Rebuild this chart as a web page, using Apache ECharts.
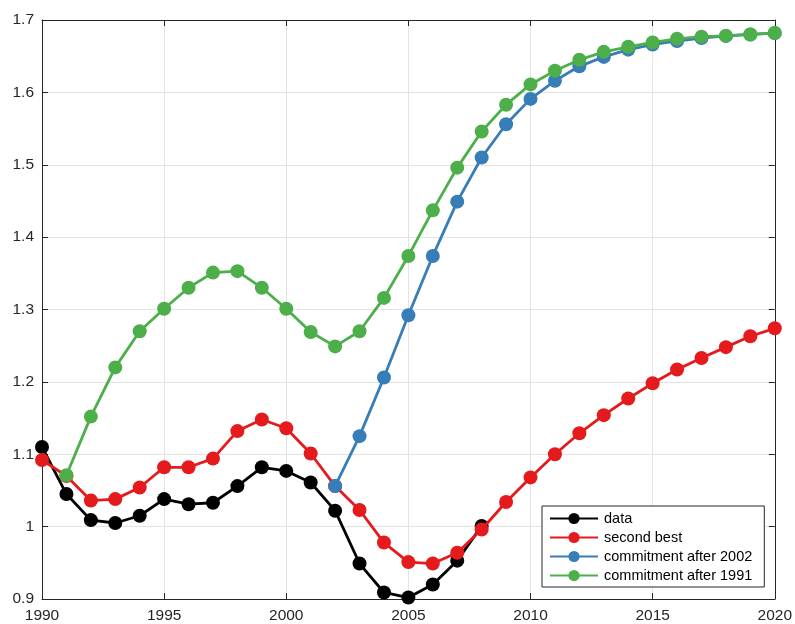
<!DOCTYPE html>
<html><head><meta charset="utf-8">
<script src="https://cdn.jsdelivr.net/npm/echarts@6/dist/echarts.min.js"></script>
<style>html,body{margin:0;padding:0;background:#fff}#c{width:795px;height:624px}</style>
</head><body><div id="c"></div>
<script>
const years = [];
for (let y = 1990; y <= 2020; y++) years.push(y);
const dataVals = [1.110,1.045,1.009,1.005,1.015,1.038,1.031,1.033,1.056,1.082,1.077,1.061,1.022,0.949,0.909,0.902,0.920,0.953,1.001];
const secondBest = [1.092,1.070,1.036,1.038,1.054,1.082,1.082,1.094,1.132,1.148,1.136,1.101,1.056,1.023,0.978,0.951,0.949,0.964,0.996,1.034,1.068,1.100,1.129,1.154,1.177,1.198,1.217,1.233,1.248,1.263,1.274];
const commit2002Start = 2002;
const commit2002 = [1.056,1.125,1.206,1.292,1.374,1.449,1.510,1.556,1.591,1.616,1.636,1.649,1.659,1.666,1.671,1.675,1.678,1.680,1.682];
const commit1991Start = 1991;
const commit1991 = [1.071,1.152,1.220,1.270,1.301,1.330,1.351,1.353,1.330,1.301,1.269,1.249,1.270,1.316,1.374,1.437,1.496,1.546,1.583,1.611,1.630,1.645,1.656,1.663,1.669,1.674,1.677,1.678,1.680,1.682];
const seriesNames = ['data','second best','commitment after 2002','commitment after 1991'];
const colors = ['#000000','#e41a1c','#377eb8','#4daf4a'];

function pairs(start, vals){ return vals.map((v,i)=>[start+i, v]); }
const seriesData = [pairs(1990, dataVals), pairs(1990, secondBest), pairs(commit2002Start, commit2002), pairs(commit1991Start, commit1991)];

const font = 'Liberation Sans, Arial, Helvetica, sans-serif';
const axisCol = '#262626';
const chart = echarts.init(document.getElementById('c'), null, {renderer:'canvas'});
const common = {
  axisLine:{show:true, onZero:false, lineStyle:{color:axisCol, width:1}},
  axisTick:{show:true, inside:true, length:6, lineStyle:{color:axisCol}},
};
chart.setOption({
  animation:false,
  backgroundColor:'#fff',
  grid:{left:42, right:17, top:20, bottom:23, containLabel:false},
  xAxis:[
    Object.assign({type:'value', min:1990, max:2020, interval:5, position:'bottom',
      splitLine:{show:true, lineStyle:{color:'#e3e3e3', width:1}},
      axisLabel:{color:axisCol, fontSize:15.5, fontFamily:font, margin:9, formatter:v=>String(v)}}, common),
    Object.assign({type:'value', min:1990, max:2020, interval:5, position:'top',
      splitLine:{show:false}, axisLabel:{show:false}}, common)
  ],
  yAxis:[
    Object.assign({type:'value', min:0.9, max:1.7, interval:0.1, position:'left',
      splitLine:{show:true, lineStyle:{color:'#e3e3e3', width:1}},
      axisLabel:{color:axisCol, fontSize:15.5, fontFamily:font, margin:8, formatter:v=>String(+v.toFixed(1))}}, common),
    Object.assign({type:'value', min:0.9, max:1.7, interval:0.1, position:'right',
      splitLine:{show:false}, axisLabel:{show:false}}, common)
  ],
  legend:{
    orient:'vertical', left:542, top:506,
    data:seriesNames,
    itemWidth:48, itemHeight:14, itemGap:4,
    padding:[5,12,4,7],
    borderColor:axisCol, borderWidth:1, borderRadius:0, backgroundColor:'#fff',
    textStyle:{color:'#000', fontSize:14.5, lineHeight:14, fontFamily:font, padding:[0,0,0,1]},
    selectedMode:false
  },
  series: seriesNames.map((n,i)=>({
    name:n, type:'line', data:seriesData[i], color:colors[i],
    symbol:'circle', symbolSize:14, showAllSymbol:true,
    lineStyle:{width:2.8, color:colors[i]},
    itemStyle:{color:colors[i]},
    z:2+i, clip:false
  }))
});
</script></body></html>
